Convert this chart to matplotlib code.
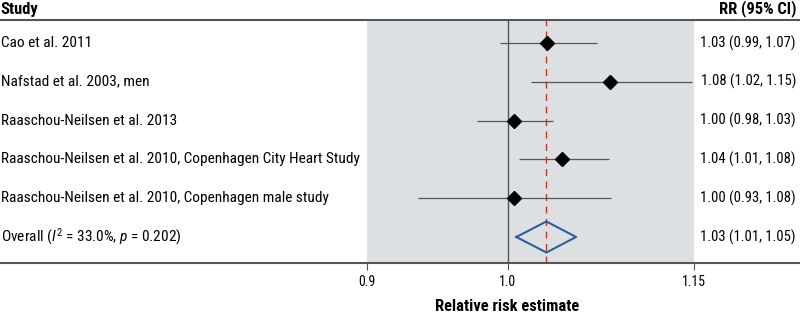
import numpy as np
import matplotlib.pyplot as plt
from matplotlib import font_manager
import matplotlib.transforms as mtransforms

names = {f.name for f in font_manager.fontManager.ttflist}
fam, fs, fs_r = 'Liberation Sans', 9.7, 9.7
for cand in ['Liberation Sans Narrow', 'Roboto Condensed', 'Open Sans Condensed']:
    if cand in names:
        fam, fs, fs_r = cand, 11.1, 10.5
        break
plt.rcParams['font.family'] = [fam, 'DejaVu Sans']
plt.rcParams['mathtext.fontset'] = 'custom'
plt.rcParams['mathtext.rm'] = fam
plt.rcParams['mathtext.it'] = fam + ':italic'

studies = ['Cao et al. 2011',
           'Nafstad et al. 2003, men',
           'Raaschou-Neilsen et al. 2013',
           'Raaschou-Neilsen et al. 2010, Copenhagen City Heart Study',
           'Raaschou-Neilsen et al. 2010, Copenhagen male study']
rr = [1.030, 1.080, 1.0045, 1.042, 1.0048]
lo = [0.994, 1.018, 0.977, 1.0085, 0.935]
hi = [1.069, 1.148, 1.035, 1.079, 1.081]
rr_labels = ['1.03 (0.99, 1.07)', '1.08 (1.02, 1.15)', '1.00 (0.98, 1.03)',
             '1.04 (1.01, 1.08)', '1.00 (0.93, 1.08)']
overall = 1.0295
overall_lo = 1.0066
overall_hi = 1.0527
overall_label = '1.03 (1.01, 1.05)'
overall_text = 'Overall ($\\mathit{I}^2$ = 33.0%, $\\mathit{p}$ = 0.202)'
ticks = [0.9, 1.0, 1.15]
tick_labels = ['0.9', '1.0', '1.15']

fig = plt.figure(figsize=(8, 3.19), dpi=100)
ax = fig.add_axes([0, 1 - 263 / 319, 1, 243 / 319])
ax.set_xscale('log')
ax.set_xlim(0.6835, 1.2451)
ax.set_ylim(5.67, -0.59)

# shaded panel between 0.9 and 1.15
ax.axvspan(0.9, 1.15, color='#dde0e2', zorder=0, lw=0)
ax.axvline(1.0, color='#555555', lw=1.0, zorder=1)
ax.axvline(overall, color='#c0392b', lw=1.0, ls=(0, (5, 4)), zorder=2)

ys = np.arange(len(studies))
ax.hlines(ys, lo, hi, color='#555555', lw=0.9, zorder=3)
ax.plot(rr, ys, 'D', color='black', ms=7, zorder=4)

oy = len(studies)
ax.plot([overall_lo, overall, overall_hi, overall, overall_lo],
        [oy, oy - 0.4, oy, oy + 0.4, oy], color='#2d5f9a', lw=1.5, zorder=4)

trans = mtransforms.blended_transform_factory(ax.transAxes, ax.transData)
for y, name, lab in zip(ys, studies, rr_labels):
    ax.text(0.001, y, name, transform=trans, ha='left', va='center', fontsize=fs)
    ax.text(0.995, y, lab, transform=trans, ha='right', va='center', fontsize=fs_r)
ax.text(0.001, oy, overall_text, transform=trans, ha='left', va='center', fontsize=fs)
ax.text(0.995, oy, overall_label, transform=trans, ha='right', va='center', fontsize=fs_r)

# headers
ax.text(0.001, -0.68, 'Study', transform=trans, ha='left', va='bottom',
        fontsize=fs + 0.8, fontweight='bold')
ax.text(0.996, -0.68, 'RR (95% CI)', transform=trans, ha='right', va='bottom',
        fontsize=fs + 0.8, fontweight='bold')

for s in ['left', 'right']:
    ax.spines[s].set_visible(False)
for s in ['top', 'bottom']:
    ax.spines[s].set_color('#555555')
    ax.spines[s].set_linewidth(1.5)

ax.set_yticks([])
ax.set_xticks(ticks)
ax.set_xticklabels(tick_labels, fontsize=fs_r - 0.5)
ax.xaxis.set_minor_locator(plt.NullLocator())
ax.tick_params(axis='x', length=5, width=0.8, color='#555555', pad=4)

ax.text(1.0, 6.8, 'Relative risk estimate', ha='center', va='center',
        fontsize=fs + 0.8, fontweight='bold', clip_on=False)

fig.savefig('out.png', dpi=100)
